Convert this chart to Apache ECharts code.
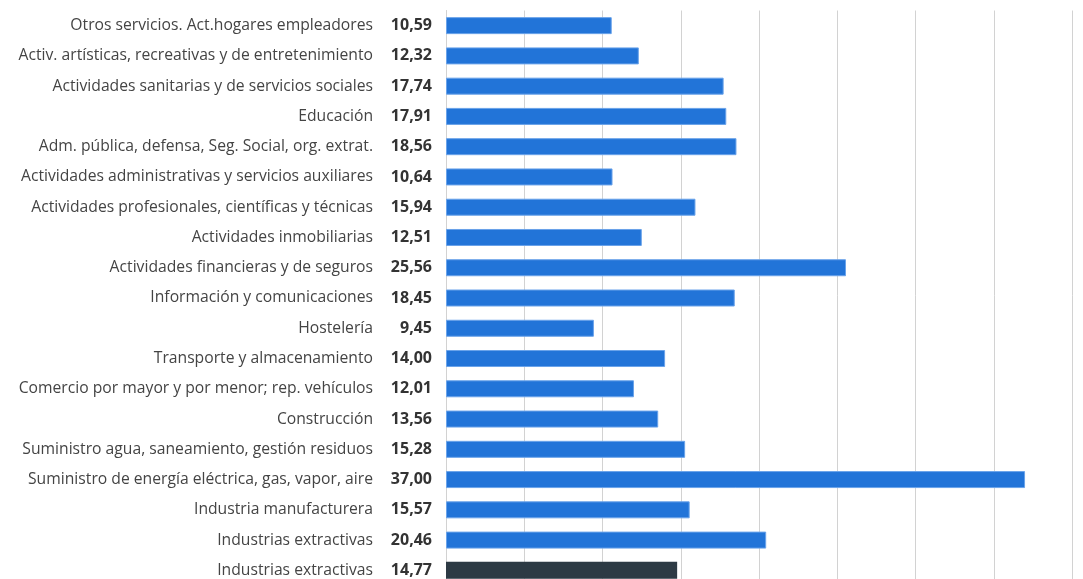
<!DOCTYPE html>
<html><head><meta charset="utf-8">
<script src="https://cdn.jsdelivr.net/npm/echarts@6/dist/echarts.min.js"></script>
<style>html,body{margin:0;padding:0;background:#fff}#c{width:1083px;height:579px}</style>
</head><body><div id="c"></div>
<script>
const categories = [
  "Otros servicios. Act.hogares empleadores",
  "Activ. artísticas, recreativas y de entretenimiento",
  "Actividades sanitarias y de servicios sociales",
  "Educación",
  "Adm. pública, defensa, Seg. Social, org. extrat.",
  "Actividades administrativas y servicios auxiliares",
  "Actividades profesionales, científicas y técnicas",
  "Actividades inmobiliarias",
  "Actividades financieras y de seguros",
  "Información y comunicaciones",
  "Hostelería",
  "Transporte y almacenamiento",
  "Comercio por mayor y por menor; rep. vehículos",
  "Construcción",
  "Suministro agua, saneamiento, gestión residuos",
  "Suministro de energía eléctrica, gas, vapor, aire",
  "Industria manufacturera",
  "Industrias extractivas",
  "Industrias extractivas"
];
const values = [10.59, 12.32, 17.74, 17.91, 18.56, 10.64, 15.94, 12.51, 25.56, 18.45, 9.45, 14.00, 12.01, 13.56, 15.28, 37.00, 15.57, 20.46, 14.77];
const highlightIndex = [18];
const xTicks = {min: 0, max: 40, interval: 5};

const fmt = v => v.toFixed(2).replace('.', ',');
const chart = echarts.init(document.getElementById('c'), null, {renderer: 'canvas'});
chart.setOption({
  animation: false,
  grid: {left: 446, right: 11, top: 10.5, height: 575, containLabel: false, outerBoundsMode: 'none'},
  xAxis: {
    type: 'value', min: xTicks.min, max: xTicks.max, interval: xTicks.interval,
    axisLabel: {show: false}, axisLine: {show: false}, axisTick: {show: false},
    splitLine: {show: true, lineStyle: {color: '#d2d2d2', width: 1}}
  },
  yAxis: {
    type: 'category', inverse: true,
    data: categories.map((c, i) => i),
    axisLine: {show: true, lineStyle: {color: '#d2d2d2', width: 1}},
    axisTick: {show: false},
    axisLabel: {
      margin: 14,
      formatter: (v, i) => '{n|' + categories[+v] + '}{v|' + fmt(values[+v]) + '}',
      rich: {
        n: {fontFamily: 'Open Sans', fontSize: 15.7, color: '#444444'},
        v: {fontFamily: 'Open Sans', fontSize: 16, fontWeight: 'bold', color: '#333333', width: 59, align: 'right'}
      }
    }
  },
  series: [{
    type: 'bar', barWidth: 17,
    data: values.map((v, i) => ({
      value: v,
      itemStyle: highlightIndex.includes(i)
        ? {color: '#2d3a44'}
        : {color: '#2274d8', borderColor: '#6aa3ea', borderWidth: 1}
    }))
  }]
});
</script></body></html>
